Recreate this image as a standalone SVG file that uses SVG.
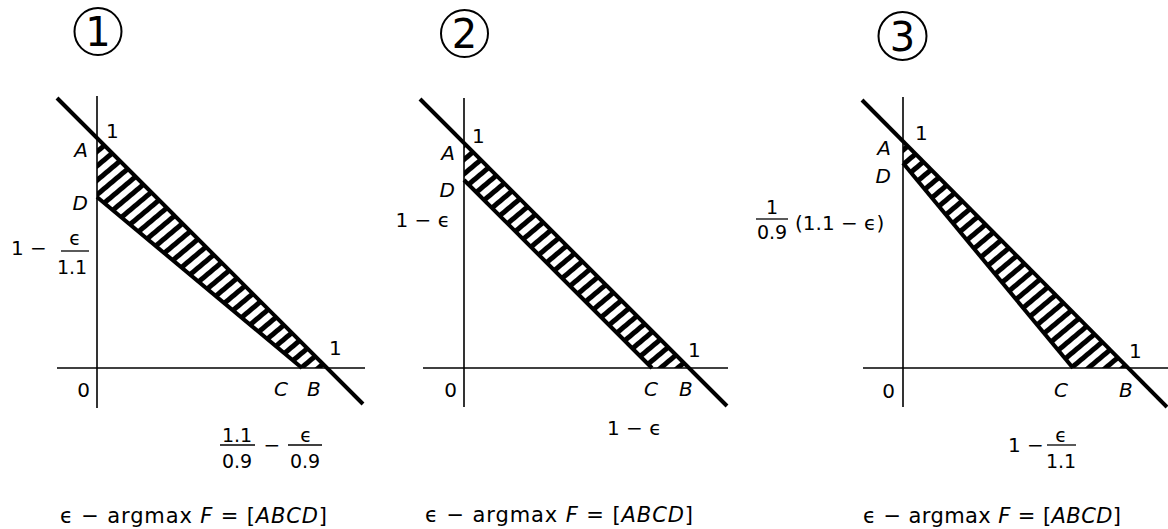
<svg xmlns="http://www.w3.org/2000/svg" width="1168" height="529" viewBox="0 0 1168 529">
<style>
  text { font-family: "DejaVu Sans", "Liberation Sans", sans-serif; font-size: 20px; fill: #000; }
  .i { font-style: italic; }
  .big { font-size: 40px; }
  .fr { font-size: 19px; }
  .f { font-size: 21px; }
  .axis { stroke: #000; stroke-width: 1.6; fill: none; }
  .thick { stroke: #000; stroke-width: 4; fill: none; }
  .bar { stroke: #000; stroke-width: 1.3; }
  .ring { stroke: #000; stroke-width: 2; fill: none; }
  .band { fill: url(#hatch); stroke: none; }
</style>
<defs>
  <pattern id="hatch" patternUnits="userSpaceOnUse" width="11" height="11" patternTransform="rotate(-40)">
    <rect x="0" y="0" width="11" height="11" fill="#fff"/>
    <rect x="0" y="0" width="11" height="5" fill="#000"/>
  </pattern>
</defs>
<rect width="1168" height="529" fill="#fff"/>

<g id="panel1">
  <circle class="ring" cx="98" cy="31.5" r="23.5"/>
  <text class="big" x="98" y="46" text-anchor="middle">1</text>
  <polygon class="band" points="97,138 328,368 302,368 97,197"/>
  <line class="axis" x1="97" y1="96" x2="97" y2="408"/>
  <line class="axis" x1="57" y1="368" x2="365" y2="368"/>
  <line class="thick" x1="57" y1="98" x2="363" y2="404"/>
  <line class="thick" x1="97" y1="197" x2="302" y2="368"/>
  <text x="106" y="138">1</text>
  <text class="i" x="88" y="157" text-anchor="end">A</text>
  <text class="i" x="88" y="210" text-anchor="end">D</text>
  <text x="11" y="255">1 −</text>
  <text class="fr" x="75" y="245" text-anchor="middle">ϵ</text>
  <line class="bar" x1="61" y1="251" x2="89" y2="251"/>
  <text class="fr" x="72" y="274" text-anchor="middle">1.1</text>
  <text x="329" y="355">1</text>
  <text x="90" y="397" text-anchor="end">0</text>
  <text class="i" x="274" y="396">C</text>
  <text class="i" x="307" y="396">B</text>
  <text class="fr" x="237" y="442" text-anchor="middle">1.1</text>
  <line class="bar" x1="220" y1="445" x2="255" y2="445"/>
  <text class="fr" x="237" y="468" text-anchor="middle">0.9</text>
  <text x="272" y="452" text-anchor="middle">−</text>
  <text class="fr" x="306" y="442" text-anchor="middle">ϵ</text>
  <line class="bar" x1="288" y1="445" x2="322" y2="445"/>
  <text class="fr" x="305" y="468" text-anchor="middle">0.9</text>
  <text class="f" x="60" y="523" textLength="267" lengthAdjust="spacing">ϵ − argmax <tspan class="i">F</tspan> = [<tspan class="i">ABCD</tspan>]</text>
</g>

<g id="panel2">
  <circle class="ring" cx="464.5" cy="33.5" r="23.5"/>
  <text class="big" x="464.5" y="48" text-anchor="middle">2</text>
  <polygon class="band" points="464,143 689,368 653,368 464,180"/>
  <line class="axis" x1="464" y1="98" x2="464" y2="407"/>
  <line class="axis" x1="423" y1="368" x2="728" y2="368"/>
  <line class="thick" x1="420" y1="99" x2="727" y2="406"/>
  <line class="thick" x1="464" y1="180" x2="652" y2="368"/>
  <text x="472" y="143">1</text>
  <text class="i" x="455" y="160" text-anchor="end">A</text>
  <text class="i" x="455" y="197" text-anchor="end">D</text>
  <text x="450" y="227" text-anchor="end">1 − ϵ</text>
  <text x="688" y="357">1</text>
  <text x="457" y="397" text-anchor="end">0</text>
  <text class="i" x="644" y="396">C</text>
  <text class="i" x="679" y="396">B</text>
  <text x="607" y="435">1 − ϵ</text>
  <text class="f" x="425" y="522" textLength="268" lengthAdjust="spacing">ϵ − argmax <tspan class="i">F</tspan> = [<tspan class="i">ABCD</tspan>]</text>
</g>

<g id="panel3">
  <circle class="ring" cx="902.5" cy="36" r="24"/>
  <text class="big" x="902.5" y="50.5" text-anchor="middle">3</text>
  <polygon class="band" points="903,141 1128,368 1073,368 903,163"/>
  <line class="axis" x1="903" y1="97" x2="903" y2="407"/>
  <line class="axis" x1="863" y1="368" x2="1168" y2="368"/>
  <line class="thick" x1="862" y1="100" x2="1167" y2="407"/>
  <line class="thick" x1="903" y1="163" x2="1073" y2="368"/>
  <text x="915" y="140">1</text>
  <text class="i" x="891" y="155" text-anchor="end">A</text>
  <text class="i" x="891" y="183" text-anchor="end">D</text>
  <text class="fr" x="772" y="214" text-anchor="middle">1</text>
  <line class="bar" x1="756" y1="219" x2="788" y2="219"/>
  <text class="fr" x="772" y="239" text-anchor="middle">0.9</text>
  <text x="795" y="230">(1.1 − ϵ)</text>
  <text x="1129" y="358">1</text>
  <text x="895" y="398" text-anchor="end">0</text>
  <text class="i" x="1054" y="397">C</text>
  <text class="i" x="1119" y="397">B</text>
  <text x="1008" y="452">1 −</text>
  <text class="fr" x="1061" y="442" text-anchor="middle">ϵ</text>
  <line class="bar" x1="1047" y1="445" x2="1076" y2="445"/>
  <text class="fr" x="1061" y="468" text-anchor="middle">1.1</text>
  <text class="f" x="863" y="523" textLength="258" lengthAdjust="spacing">ϵ − argmax <tspan class="i">F</tspan> = [<tspan class="i">ABCD</tspan>]</text>
</g>
</svg>
